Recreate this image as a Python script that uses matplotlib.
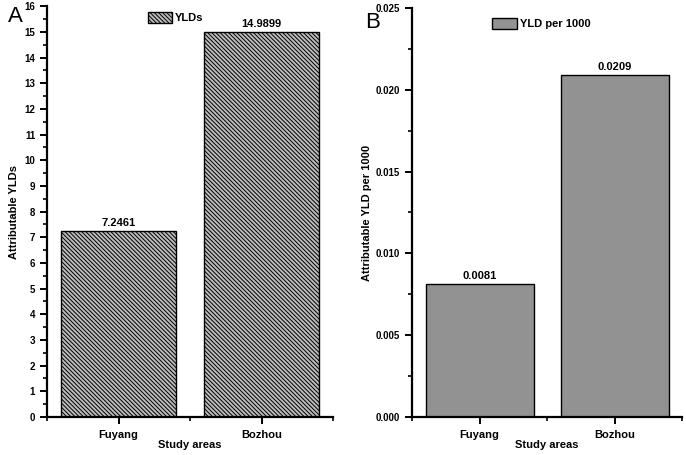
import matplotlib
matplotlib.use("Agg")
import matplotlib.pyplot as plt
from matplotlib.ticker import MultipleLocator, FixedLocator

plt.rcParams['font.family'] = ['Liberation Sans', 'DejaVu Sans']
plt.rcParams['hatch.linewidth'] = 0.7

categories = ["Fuyang", "Bozhou"]
ylds = [7.2461, 14.9899]
yld_per_1000 = [0.0081, 0.0209]
ylds_labels = ["7.2461", "14.9899"]
per1000_labels = ["0.0081", "0.0209"]

fig = plt.figure(figsize=(6.86, 4.55), dpi=100)
axA = fig.add_axes([0.0685, 0.0835, 0.417, 0.903])
axB = fig.add_axes([0.6006, 0.0835, 0.3936, 0.899])

x = [1, 2]

def style(ax):
    for s in ['top', 'right']:
        ax.spines[s].set_visible(False)
    for s in ['left', 'bottom']:
        ax.spines[s].set_linewidth(1.6)
    ax.set_xlim(0.5, 2.5)
    ax.set_xticks(x)
    ax.set_xticklabels(categories, fontsize=8, fontweight='bold')
    ax.xaxis.set_minor_locator(FixedLocator([0.5, 1.5, 2.5]))
    ax.tick_params(axis='both', which='major', direction='out', length=5, width=1.4, labelsize=7)
    ax.tick_params(axis='both', which='minor', direction='out', length=3, width=1.2)
    ax.tick_params(axis='x', which='major', pad=4, labelsize=8)
    for lab in ax.get_yticklabels():
        lab.set_fontweight('bold')
    ax.set_xlabel("Study areas", fontsize=8, fontweight='bold', labelpad=0)

barsA = axA.bar(x, ylds, width=0.8, facecolor='#bcbcbc', edgecolor='black',
                hatch='\\' * 8, linewidth=1.0, label='YLDs')
axA.set_ylim(0, 16)
axA.yaxis.set_major_locator(MultipleLocator(1))
axA.yaxis.set_minor_locator(MultipleLocator(0.5))
style(axA)
axA.set_ylabel("Attributable YLDs", fontsize=8, fontweight='bold', labelpad=4)
for xi, v, t in zip(x, ylds, ylds_labels):
    axA.text(xi, v + 0.12, t, ha='center', va='bottom', fontsize=8, fontweight='bold')
axA.legend(loc='upper center', bbox_to_anchor=(0.45, 1.01), frameon=False,
           prop={'weight': 'bold', 'size': 8}, handlelength=2.2, handleheight=1.2,
           handletextpad=0.3)

barsB = axB.bar(x, yld_per_1000, width=0.8, facecolor='#929292', edgecolor='black',
                linewidth=1.0, label='YLD per 1000')
axB.set_ylim(0, 0.025)
axB.yaxis.set_major_locator(MultipleLocator(0.005))
axB.yaxis.set_minor_locator(MultipleLocator(0.0025))
axB.yaxis.set_major_formatter(matplotlib.ticker.FormatStrFormatter('%.3f'))
style(axB)
axB.set_ylabel("Attributable YLD per 1000", fontsize=8, fontweight='bold', labelpad=3)
for xi, v, t in zip(x, yld_per_1000, per1000_labels):
    axB.text(xi, v + 0.0002, t, ha='center', va='bottom', fontsize=8, fontweight='bold')
axB.legend(loc='upper center', bbox_to_anchor=(0.48, 1.0), frameon=False,
           prop={'weight': 'bold', 'size': 8}, handlelength=2.2, handleheight=1.2,
           handletextpad=0.3)

fig.text(8/686, 1 - 22/455, "A", fontsize=16)
fig.text(365/686, 1 - 28/455, "B", fontsize=16)

fig.savefig("out.png", dpi=100)
